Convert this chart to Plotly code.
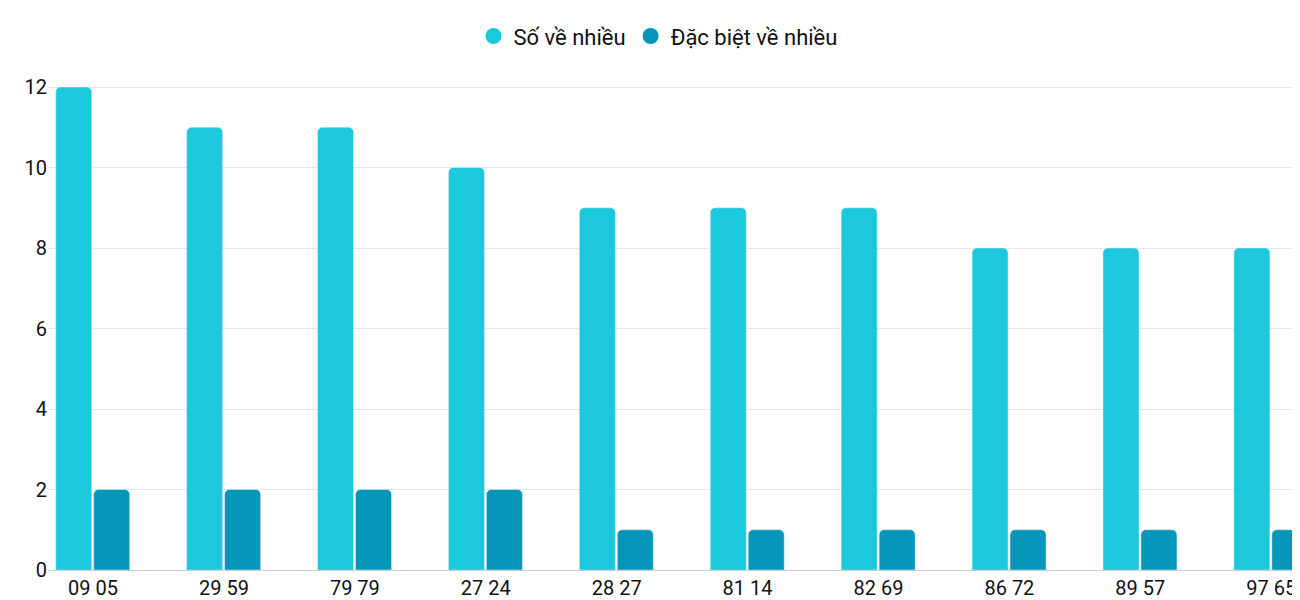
import plotly.graph_objects as go

labels = ["09 05","29 59","79 79","27 24","28 27","81 14","82 69","86 72","89 57","97 65"]
so_ve = [12,11,11,10,9,9,9,8,8,8]
dac_biet = [2,2,2,2,1,1,1,1,1,1]
idx = list(range(len(labels)))
c1, c2 = "#1BC8DC", "#0696BA"

fig = go.Figure()
fig.add_bar(x=idx, y=so_ve, name="Số về nhiều", marker=dict(color=c1, cornerradius=5),
            width=0.275, offset=-0.285, showlegend=False)
fig.add_bar(x=idx, y=dac_biet, name="Đặc biệt về nhiều", marker=dict(color=c2, cornerradius=5),
            width=0.275, offset=0.005, showlegend=False)
for n, c in [("Số về nhiều", c1), ("Đặc biệt về nhiều", c2)]:
    fig.add_scatter(x=[None], y=[None], mode="markers", name=n,
                    marker=dict(color=c, size=24, symbol="circle"))
fig.update_layout(
    width=1300, height=600, barmode="group",
    margin=dict(l=40, r=8, t=77, b=36),
    plot_bgcolor="white", paper_bgcolor="white",
    font=dict(family="Roboto", size=20, color="#111"),
    legend=dict(orientation="h", x=0.5, xanchor="center", xref="container",
                y=0.953, yanchor="middle", yref="container", font=dict(size=22)),
    xaxis=dict(tickvals=idx, ticktext=labels, range=[-0.344, 9.22], showgrid=False,
               showline=True, linecolor="#ccc", ticks=""),
    yaxis=dict(range=[0, 12.05], dtick=2, gridcolor="#e6e6e6", zeroline=False, ticks=""),
)
fig.write_html("out.html")
